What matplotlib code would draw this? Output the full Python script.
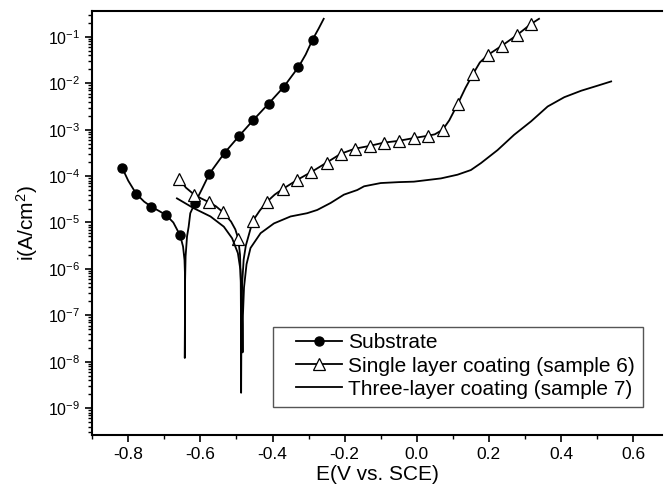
"""Polarization curves: substrate vs coatings."""

import numpy as np
import matplotlib
matplotlib.use("Agg")
import matplotlib.pyplot as plt
from matplotlib.patches import Rectangle
from matplotlib.ticker import LogLocator, MultipleLocator, NullFormatter

# potentials (V vs SCE) and log10 of current density (A/cm2)
sub_E = [-0.817, -0.800, -0.778, -0.756, -0.736, -0.715, -0.695, -0.675, -0.656, -0.648,
         -0.644, -0.6425, -0.6432, -0.6428, -0.6425, -0.641, -0.637, -0.6325, -0.628, -0.615,
         -0.595, -0.575, -0.533, -0.492, -0.453, -0.411, -0.369, -0.328, -0.308, -0.289, -0.272, -0.258]
sub_logi = [-3.82, -4.10, -4.38, -4.55, -4.66, -4.75, -4.84, -5.00, -5.28, -5.52,
            -5.81, -6.17, -7.92, -7.0, -6.3, -5.73, -5.30, -5.09, -4.80, -4.58,
            -4.27, -3.95, -3.50, -3.13, -2.79, -2.44, -2.08, -1.65, -1.38, -1.06, -0.82, -0.61]
sub_mark_E = [-0.817, -0.778, -0.736, -0.695, -0.656, -0.615, -0.575, -0.533, -0.492,
              -0.453, -0.411, -0.369, -0.328, -0.289]
sub_mark_logi = [-3.82, -4.38, -4.66, -4.84, -5.28, -4.58, -3.95, -3.50, -3.13,
                 -2.79, -2.44, -2.08, -1.65, -1.06]

single_E = [-0.660, -0.640, -0.617, -0.598, -0.577, -0.557, -0.537, -0.515, -0.503, -0.495,
            -0.490, -0.488, -0.4875, -0.487, -0.486, -0.484, -0.480, -0.474, -0.465, -0.455,
            -0.435, -0.415, -0.394, -0.372, -0.331, -0.292, -0.250, -0.211, -0.172, -0.131,
            -0.092, -0.050, -0.008, 0.031, 0.050, 0.072, 0.090, 0.114, 0.135, 0.156,
            0.175, 0.197, 0.236, 0.278, 0.317, 0.339]
single_logi = [-4.05, -4.25, -4.40, -4.48, -4.56, -4.65, -4.78, -4.98, -5.15, -5.35,
               -5.70, -6.30, -7.00, -8.67, -7.00, -6.30, -5.80, -5.50, -5.25, -4.97,
               -4.74, -4.55, -4.40, -4.28, -4.08, -3.91, -3.71, -3.52, -3.41, -3.35,
               -3.28, -3.24, -3.18, -3.13, -3.10, -3.00, -2.80, -2.44, -2.10, -1.80,
               -1.55, -1.39, -1.19, -0.96, -0.72, -0.61]
single_mark_E = [-0.658, -0.617, -0.577, -0.537, -0.495, -0.455, -0.415, -0.372, -0.331,
                 -0.292, -0.250, -0.211, -0.172, -0.131, -0.092, -0.050, -0.008, 0.031,
                 0.072, 0.114, 0.156, 0.197, 0.236, 0.278, 0.317]
single_mark_logi = [-4.06, -4.40, -4.56, -4.78, -5.35, -4.97, -4.55, -4.28, -4.08,
                    -3.91, -3.71, -3.52, -3.41, -3.35, -3.28, -3.24, -3.18, -3.13,
                    -3.00, -2.44, -1.80, -1.39, -1.19, -0.96, -0.72]

three_E = [-0.665, -0.619, -0.572, -0.535, -0.512, -0.496, -0.489, -0.4855, -0.484, -0.483,
           -0.482, -0.479, -0.472, -0.461, -0.433, -0.396, -0.350, -0.304, -0.276, -0.239,
           -0.202, -0.165, -0.146, -0.100, -0.050, -0.008, 0.067, 0.113, 0.150, 0.178,
           0.224, 0.270, 0.317, 0.363, 0.409, 0.456, 0.502, 0.539]
three_logi = [-4.48, -4.69, -4.87, -5.09, -5.34, -5.66, -6.02, -6.60, -7.20, -7.80,
              -7.00, -6.40, -5.90, -5.55, -5.23, -5.02, -4.87, -4.80, -4.73, -4.58,
              -4.40, -4.30, -4.22, -4.15, -4.13, -4.12, -4.05, -3.97, -3.87, -3.72,
              -3.44, -3.11, -2.82, -2.50, -2.30, -2.16, -2.05, -1.96]

labels = ["Substrate", "Single layer coating (sample 6)", "Three-layer coating (sample 7)"]


def main() -> None:
    plt.rcParams["font.family"] = ["Liberation Sans", "DejaVu Sans"]
    plt.rcParams["mathtext.fontset"] = "custom"
    plt.rcParams["mathtext.rm"] = "Liberation Sans"
    plt.rcParams["mathtext.it"] = "Liberation Sans:italic"

    fig = plt.figure(figsize=(6.68, 4.96), dpi=100)
    ax = fig.add_axes([0.138, 0.123, 0.853, 0.855])

    ax.plot(sub_E, 10 ** np.array(sub_logi), color="black", lw=1.3)
    ax.plot(sub_mark_E, 10 ** np.array(sub_mark_logi), ls="none", marker="o",
            ms=6.5, mfc="black", mec="black")
    ax.plot(single_E, 10 ** np.array(single_logi), color="black", lw=1.3)
    ax.plot(single_mark_E, 10 ** np.array(single_mark_logi), ls="none", marker="^",
            ms=8, mfc="white", mec="black", mew=0.9)
    ax.plot(three_E, 10 ** np.array(three_logi), color="black", lw=1.3)

    # legend handles built from proxies so line + marker show together
    h1, = ax.plot([], [], color="black", lw=1.3, marker="o", ms=6.5, mfc="black")
    h2, = ax.plot([], [], color="black", lw=1.3, marker="^", ms=8, mfc="white", mew=0.9)
    h3, = ax.plot([], [], color="black", lw=1.3)
    ax.legend([h1, h2, h3], labels, loc="lower right", bbox_to_anchor=(0.967, 0.066),
              fontsize=15, frameon=False, handlelength=2.2, handletextpad=0.3,
              labelspacing=0.2, borderpad=0.4, borderaxespad=0)
    # legend box is wider on the left than matplotlib pads it, so draw it by hand
    ax.add_patch(Rectangle((0.3175, 0.066), 0.6495, 0.189, transform=ax.transAxes,
                           fill=False, edgecolor="#555555", lw=1.0, zorder=4))

    ax.set_yscale("log")
    ax.set_xlim(-0.9, 0.68)
    ax.set_ylim(10 ** -9.58, 10 ** -0.44)
    ax.xaxis.set_major_locator(MultipleLocator(0.2))
    ax.xaxis.set_minor_locator(MultipleLocator(0.1))
    ax.xaxis.set_major_formatter(plt.FuncFormatter(lambda v, p: f"{v:.1f}".replace("-0.0", "0.0")))
    ax.yaxis.set_major_locator(LogLocator(base=10, numticks=20))
    ax.yaxis.set_minor_locator(LogLocator(base=10, subs=np.arange(2, 10), numticks=20))
    ax.yaxis.set_minor_formatter(NullFormatter())

    ax.spines["right"].set_visible(False)
    for s in ["left", "bottom", "top"]:
        ax.spines[s].set_linewidth(1.5)
    ax.tick_params(which="major", direction="out", length=5, width=1.2)
    ax.tick_params(which="minor", direction="out", length=3, width=1.0)
    ax.tick_params(axis="x", labelsize=12.5)
    ax.tick_params(axis="y", labelsize=11.5)
    ax.tick_params(top=False, right=False)

    ax.set_xlabel("E(V vs. SCE)", fontsize=15, labelpad=2)
    ax.set_ylabel("i(A/cm$^2$)", fontsize=15, labelpad=6)

    fig.savefig("out.png", dpi=100)
    plt.close(fig)


if __name__ == "__main__":
    main()
